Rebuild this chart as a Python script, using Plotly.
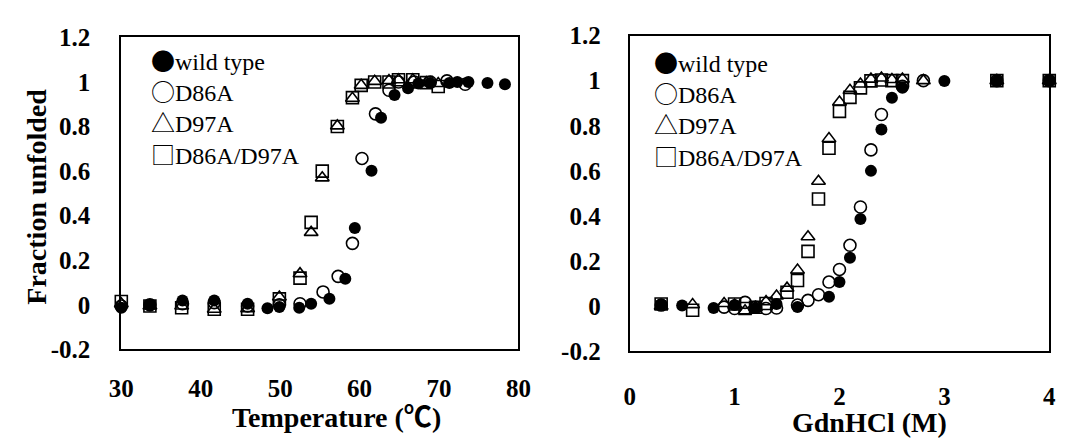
import plotly.graph_objects as go

# ---- thermal denaturation (fraction unfolded vs temperature, °C) ----
wt_temp = [30.0, 33.6, 37.7, 41.7, 45.9, 48.4, 49.9, 52.4, 53.9, 56.2, 58.2, 59.4,
           61.5, 62.7, 64.4, 66.1, 67.4, 68.9, 71.3, 72.3, 73.7, 76.1, 78.3]
wt_temp_f = [-0.013, 0.0, 0.02, 0.02, 0.005, -0.015, -0.01, -0.013, 0.005, 0.027, 0.117, 0.345,
             0.602, 0.84, 0.942, 0.972, 0.993, 0.995, 0.995, 1.0, 1.0, 0.995, 0.99]

d86a_temp = [30.0, 33.6, 37.7, 41.7, 45.9, 49.9, 52.5, 55.4, 57.3, 59.1, 60.3, 62.0,
             63.7, 64.9, 66.9, 68.9, 71.0, 73.3]
d86a_temp_f = [-0.005, 0.0, 0.005, 0.01, -0.005, 0.0, 0.005, 0.058, 0.128, 0.276, 0.657, 0.857,
               0.963, 1.0, 1.0, 1.0, 1.005, 0.99]

d97a_temp = [30.0, 33.6, 37.6, 41.7, 45.9, 49.9, 52.5, 53.9, 55.3, 57.2, 59.1, 60.2,
             61.9, 63.7, 64.9, 66.7, 68.4, 69.9]
d97a_temp_f = [0.005, -0.005, -0.005, -0.02, -0.017, 0.035, 0.14, 0.325, 0.57, 0.803, 0.927, 0.985,
               1.003, 1.007, 1.01, 1.01, 0.997, 0.993]

dd_temp = [30.0, 33.6, 37.6, 41.7, 45.9, 49.9, 52.5, 53.9, 55.3, 57.2, 59.1, 60.2,
           61.9, 63.7, 64.9, 66.7, 68.4, 69.9]
dd_temp_f = [0.015, -0.005, -0.013, -0.02, -0.02, 0.027, 0.12, 0.37, 0.6, 0.8, 0.93, 0.985,
             1.0, 1.0, 1.01, 1.01, 0.997, 0.98]

# ---- chemical denaturation (fraction unfolded vs GdnHCl, M) ----
wt_gdn = [0.3, 0.5, 0.8, 1.0, 1.2, 1.4, 1.6, 1.9, 2.0, 2.1, 2.2, 2.3, 2.4, 2.5, 2.6, 3.0, 3.5, 4.0]
wt_gdn_f = [0.007, 0.003, -0.008, 0.005, -0.008, 0.01, -0.004, 0.042, 0.107, 0.215, 0.387, 0.6,
            0.783, 0.924, 0.968, 0.999, 0.999, 1.0]

d86a_gdn = [0.3, 0.9, 1.0, 1.1, 1.2, 1.3, 1.4, 1.6, 1.7, 1.8, 1.9, 2.0, 2.1, 2.2, 2.3, 2.4,
            2.6, 2.8, 3.5, 4.0]
d86a_gdn_f = [0.005, -0.004, -0.01, 0.017, -0.005, -0.01, -0.008, 0.005, 0.026, 0.051, 0.107,
              0.163, 0.27, 0.44, 0.693, 0.85, 0.975, 1.0, 1.0, 1.0]

d97a_gdn = [0.3, 0.6, 0.9, 1.0, 1.1, 1.2, 1.3, 1.4, 1.5, 1.6, 1.7, 1.8, 1.9, 2.0, 2.1, 2.2,
            2.3, 2.4, 2.5, 2.6, 2.8, 3.5, 4.0]
d97a_gdn_f = [0.0, 0.007, 0.012, 0.005, -0.02, -0.005, 0.02, 0.045, 0.08, 0.16, 0.308, 0.554,
              0.743, 0.905, 0.957, 0.985, 1.007, 1.012, 1.005, 1.007, 1.0, 1.0, 1.0]

dd_gdn = [0.3, 0.6, 1.0, 1.1, 1.2, 1.3, 1.5, 1.6, 1.7, 1.8, 1.9, 2.0, 2.1, 2.2, 2.3, 2.4,
          2.5, 2.6, 3.5, 4.0]
dd_gdn_f = [0.01, -0.018, 0.01, -0.01, -0.005, 0.012, 0.062, 0.114, 0.243, 0.475, 0.7, 0.864,
            0.926, 0.968, 0.999, 1.003, 1.0, 1.0, 1.0, 1.0]

# ---- axes ----
y_ticks = [-0.2, 0, 0.2, 0.4, 0.6, 0.8, 1.0, 1.2]
y_tick_text = ["-0.2", "0", "0.2", "0.4", "0.6", "0.8", "1", "1.2"]
temp_ticks = [30, 40, 50, 60, 70, 80]
gdn_ticks = [0, 1, 2, 3, 4]
y_range = [-0.2, 1.2]
temp_range = [30, 80]
gdn_range = [0, 4]

legend_names = ["wild type", "D86A", "D97A", "D86A/D97A"]
legend_glyphs = ["●", "○", "△", "□"]

W, H = 1073, 448
SERIF = "Liberation Serif, Times New Roman, serif"
CJK = "Noto Sans CJK JP"

# panel frames in pixels (left, right, top, bottom)
left_px = (111, 518, 26, 358)
right_px = (632, 1062, 24, 360)


def xdom(p):
    return [p[0] / W, p[1] / W]


def ydom(p):
    return [1 - p[3] / H, 1 - p[2] / H]


def zero_pos(p):
    d = ydom(p)
    return d[0] + (0 - y_range[0]) / (y_range[1] - y_range[0]) * (d[1] - d[0])


series_style = [
    dict(symbol="circle", color="black", line=dict(width=0)),
    dict(symbol="circle-open", color="black", line=dict(width=1.6, color="black")),
    dict(symbol="triangle-up-open", color="black", line=dict(width=1.6, color="black")),
    dict(symbol="square-open", color="black", line=dict(width=1.6, color="black")),
]
marker_sizes = [12, 12, 12, 12]

temp_series = [(wt_temp, wt_temp_f), (d86a_temp, d86a_temp_f),
               (d97a_temp, d97a_temp_f), (dd_temp, dd_temp_f)]
gdn_series = [(wt_gdn, wt_gdn_f), (d86a_gdn, d86a_gdn_f),
              (d97a_gdn, d97a_gdn_f), (dd_gdn, dd_gdn_f)]

fig = go.Figure()

for (xs, ys), st, sz, nm in zip(temp_series, series_style, marker_sizes, legend_names):
    fig.add_trace(go.Scatter(x=xs, y=ys, mode="markers", name=nm, showlegend=False,
                             xaxis="x", yaxis="y", cliponaxis=False,
                             marker=dict(size=sz, **st)))

for (xs, ys), st, sz, nm in zip(gdn_series, series_style, marker_sizes, legend_names):
    fig.add_trace(go.Scatter(x=xs, y=ys, mode="markers", name=nm, showlegend=False,
                             xaxis="x2", yaxis="y2", cliponaxis=False,
                             marker=dict(size=sz, **st)))

tickfont = dict(family=SERIF, size=25, color="black", weight="bold")
frame = dict(showline=True, mirror=True, linecolor="black", linewidth=2,
             showgrid=False, zeroline=False, ticks="")

fig.update_layout(
    width=W, height=H,
    margin=dict(l=0, r=0, t=0, b=0),
    paper_bgcolor="white", plot_bgcolor="white",
    font=dict(family=SERIF, size=25, color="black", weight="bold"),
    showlegend=False,
    xaxis=dict(domain=xdom(left_px), anchor="y", range=temp_range, tickvals=temp_ticks,
               tickfont=tickfont, ticklabelstandoff=16, **frame),
    yaxis=dict(domain=ydom(left_px), anchor="x", range=y_range, tickvals=y_ticks,
               ticktext=y_tick_text, tickfont=tickfont, ticklabelstandoff=24, **frame),
    xaxis2=dict(domain=xdom(right_px), anchor="y2", range=gdn_range, tickvals=gdn_ticks,
                tickfont=tickfont, ticklabelstandoff=22, **frame),
    yaxis2=dict(domain=ydom(right_px), anchor="x2", range=y_range, tickvals=y_ticks,
                ticktext=y_tick_text, tickfont=tickfont, ticklabelstandoff=22, **frame),
    # baseline at zero fraction, with short upward ticks
    xaxis3=dict(overlaying="x", anchor="free", position=zero_pos(left_px), side="top",
                domain=xdom(left_px), range=temp_range, tickvals=temp_ticks[1:-1],
                showticklabels=False, ticks="outside", ticklen=6, tickwidth=2,
                tickcolor="black", showline=True, linecolor="black", linewidth=2,
                showgrid=False, zeroline=False),
    xaxis4=dict(overlaying="x2", anchor="free", position=zero_pos(right_px), side="top",
                domain=xdom(right_px), range=gdn_range, tickvals=gdn_ticks[1:-1],
                showticklabels=False, ticks="outside", ticklen=6, tickwidth=2,
                tickcolor="black", showline=True, linecolor="black", linewidth=2,
                showgrid=False, zeroline=False),
)

annotations = []

# axis titles
title_font = dict(family=SERIF, size=28, color="black", weight="bold")
annotations.append(dict(text="Fraction unfolded", x=24 / W, y=1 - 195 / H, xref="paper",
                        yref="paper", textangle=-90, showarrow=False, font=title_font,
                        xanchor="center", yanchor="middle"))
annotations.append(dict(text=f"Temperature (<span style='font-family:{CJK}'>℃</span>)",
                        x=332 / W, y=1 - 428 / H, xref="paper", yref="paper",
                        showarrow=False, font=title_font, xanchor="center", yanchor="middle"))
annotations.append(dict(text="GdnHCl (M)", x=878 / W, y=1 - 436 / H, xref="paper",
                        yref="paper", showarrow=False, font=title_font,
                        xanchor="center", yanchor="middle"))

# in-panel legends, one text block per panel
legend_font = dict(family=SERIF, size=24, color="black", weight="normal")
legend_text = "<br>".join(f"<span style='font-family:{CJK}'>{g}</span>{nm}"
                          for g, nm in zip(legend_glyphs, legend_names))
for x0, yc in ((139, 99.5), (655, 102)):
    annotations.append(dict(text=legend_text, align="left",
                            x=x0 / W, y=1 - yc / H, xref="paper", yref="paper",
                            showarrow=False, xanchor="left", yanchor="middle",
                            font=legend_font))

fig.update_layout(annotations=annotations)

fig.write_html("out.html")
